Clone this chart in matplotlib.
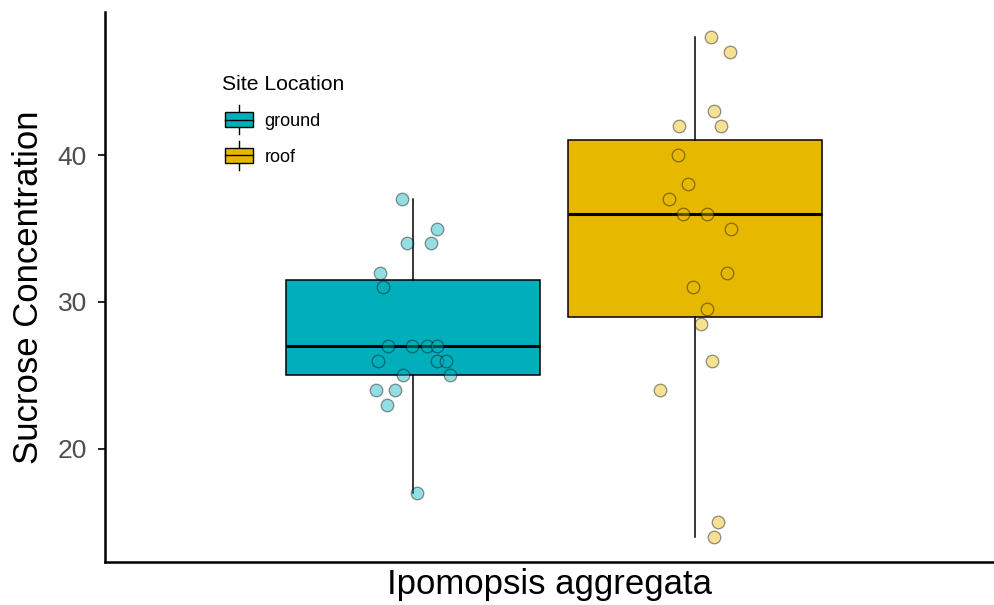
import numpy as np
import matplotlib
matplotlib.use("Agg")
import matplotlib.pyplot as plt
from matplotlib.patches import Rectangle, Patch
from matplotlib.lines import Line2D
from matplotlib.legend_handler import HandlerBase

plt.rcParams['font.family'] = ['Liberation Sans', 'DejaVu Sans']

# --- data ---
species = "Ipomopsis aggregata"
sites = ["ground", "roof"]
site_colors = ["#00AFBB", "#E7B800"]

ground_sucrose = [37, 35, 34, 34, 32, 31, 27, 27, 27, 27, 26, 26, 26, 25, 25, 24, 24, 23, 17]
roof_sucrose = [48, 47, 43, 42, 42, 40, 38, 37, 36, 36, 35, 32, 31, 29.5, 28.5, 26, 24, 15, 14]

# horizontal jitter of each point (category units)
ground_jitter = [-0.018, 0.040, -0.010, 0.030, -0.055, -0.050, -0.042, -0.002, 0.024, 0.040,
                 -0.059, 0.040, 0.055, -0.017, 0.062, -0.062, -0.030, -0.044, 0.007]
roof_jitter = [0.027, 0.059, 0.032, -0.027, 0.044, -0.029, -0.012, -0.044, -0.020, 0.020,
               0.060, 0.054, -0.003, 0.020, 0.010, 0.029, -0.059, 0.039, 0.032]

yticks = [20, 30, 40]


class BoxKey(HandlerBase):
    """legend key that looks like a small boxplot"""
    def create_artists(self, legend, orig_handle, xdescent, ydescent, width, height, fontsize, trans):
        x0, y0 = -xdescent + 2, -ydescent
        cx = x0 + width / 2
        cy = y0 + height / 2
        ext = height * 0.45
        box = Rectangle((x0, y0), width, height, facecolor=orig_handle.get_facecolor(),
                        edgecolor='black', lw=1.0, transform=trans)
        med = Line2D([x0, x0 + width], [cy, cy], color='black', lw=1.0, transform=trans)
        w_hi = Line2D([cx, cx], [y0 + height, y0 + height + ext], color='black', lw=1.0, transform=trans)
        w_lo = Line2D([cx, cx], [y0 - ext, y0], color='black', lw=1.0, transform=trans)
        return [w_lo, w_hi, box, med]


fig = plt.figure(figsize=(9.94, 6.05), dpi=100)
ax = fig.add_axes([105 / 994, 43 / 605, (994 - 105) / 994, (562 - 12) / 605])

center = 1.0
offset = 0.2367
positions = [center - offset, center + offset]

bp = ax.boxplot([ground_sucrose, roof_sucrose], positions=positions, widths=0.4265,
                patch_artist=True, showcaps=False, showfliers=False, whis=1.5,
                medianprops=dict(color='black', lw=2.2),
                boxprops=dict(edgecolor='black', lw=1.1),
                whiskerprops=dict(color='black', lw=1.1), zorder=2)
for patch, col in zip(bp['boxes'], site_colors):
    patch.set_facecolor(col)

for pos, vals, jit, col in zip(positions, [ground_sucrose, roof_sucrose],
                               [ground_jitter, roof_jitter], site_colors):
    ax.scatter(pos + np.array(jit), vals, s=82, facecolor=col, edgecolor='black',
               lw=0.9, alpha=0.42, zorder=3)

ax.set_xlim(0.246, 1.739)
ax.set_ylim(12.31, 49.73)
ax.set_xticks([])
ax.set_yticks(yticks)
ax.tick_params(axis='y', labelsize=19, labelcolor='#4D4D4D', length=5, width=1.2, pad=8)

for side in ['top', 'right']:
    ax.spines[side].set_visible(False)
for side in ['left', 'bottom']:
    ax.spines[side].set_linewidth(1.8)

ax.set_xlabel(species, fontsize=25, labelpad=4)
ax.set_ylabel("Sucrose Concentration", fontsize=25, labelpad=9)

handles = [Patch(facecolor=c) for c in site_colors]
leg = ax.legend(handles, sites, title="Site Location", loc='upper left',
                bbox_to_anchor=(213 / 994, 1 - 66 / 605), bbox_transform=fig.transFigure,
                frameon=False, fontsize=13, title_fontsize=15.2, borderpad=0,
                handlelength=1.55, handleheight=0.9, handletextpad=0.8, labelspacing=1.0,
                alignment='left', handler_map={Patch: BoxKey()})

fig.savefig("out.png", dpi=100)
